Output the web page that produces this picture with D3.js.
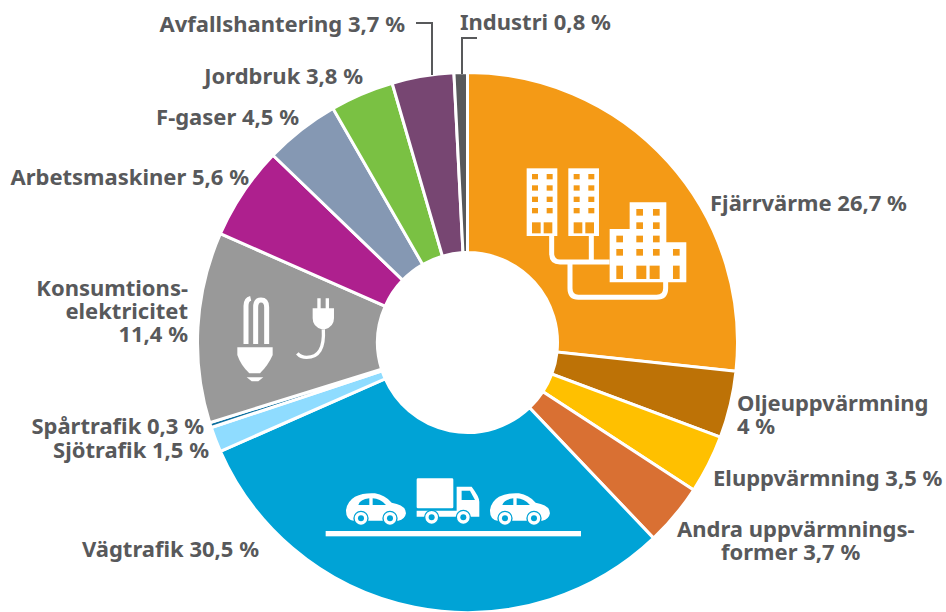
<!DOCTYPE html>
<html>
<head>
<meta charset="utf-8">
<script src="https://cdn.jsdelivr.net/npm/d3@7"></script>
<style>
html, body { margin: 0; padding: 0; background: #fff; overflow: hidden; }
text { font-family: "Noto Sans", sans-serif; font-weight: 700; font-size: 22px; fill: #58595b; }
</style>
</head>
<body>
<script>
// Data, clockwise from the top
var categories = ["Fjärrvärme", "Oljeuppvärmning", "Eluppvärmning", "Andra uppvärmningsformer", "Vägtrafik", "Sjötrafik", "Spårtrafik", "Konsumtionselektricitet", "Arbetsmaskiner", "F-gaser", "Jordbruk", "Avfallshantering", "Industri"];
var values = [26.7, 4, 3.5, 3.7, 30.5, 1.5, 0.3, 11.4, 5.6, 4.5, 3.8, 3.7, 0.8];
var colors = ["#f49a16", "#bd7206", "#ffc000", "#d97033", "#00a3d6", "#8fdcff", "#0d6f9f", "#999999", "#ae208e", "#8598b3", "#7ac143", "#774672", "#58595b"];

// Label texts and where they sit
var labelLines = [
    ["Fjärrvärme 26,7 %"], ["Oljeuppvärmning", "4 %"], ["Eluppvärmning 3,5 %"],
    ["Andra uppvärmnings-"], ["Vägtrafik 30,5 %"], ["Sjötrafik 1,5 %"], ["Spårtrafik 0,3 %"],
    ["Konsumtions-", "elektricitet", "11,4 %"], ["Arbetsmaskiner 5,6 %"], ["F-gaser 4,5 %"],
    ["Jordbruk 3,8 %"], ["Avfallshantering 3,7 %"], ["Industri 0,8 %"]
];
var labelX = [710, 737, 713, 677, 259, 209, 204, 188, 249, 299, 363, 405, 460];
var labelY = [211, 411, 486, 537, 557, 458, 434, 296, 185, 125, 84, 32, 30];
var labelAnchor = ["start", "start", "start", "start", "end", "end", "end", "end", "end", "end", "end", "end", "start"];

var width = 946, height = 612;
var cx = 467.5, cy = 342.5, outerR = 270, innerR = 90;

var svg = d3.select("body").append("svg")
    .attr("width", width)
    .attr("height", height);

// Slices
var pie = d3.pie().sort(null).value(function(d) { return d; });
var arc = d3.arc().innerRadius(innerR).outerRadius(outerR);

svg.append("g")
    .attr("transform", "translate(" + cx + "," + cy + ")")
    .selectAll("path")
    .data(pie(values))
    .enter().append("path")
    .attr("d", arc)
    .attr("fill", function(d, i) { return colors[i]; })
    .attr("stroke", "#fff")
    .attr("stroke-width", 3);

// Labels
var labels = svg.append("g").selectAll("text")
    .data(labelLines)
    .enter().append("text")
    .attr("text-anchor", function(d, i) { return labelAnchor[i]; })
    .attr("y", function(d, i) { return labelY[i]; });

labels.selectAll("tspan")
    .data(function(d, i) { return d.map(function(t) { return {t: t, x: labelX[i]}; }); })
    .enter().append("tspan")
    .attr("x", function(d) { return d.x; })
    .attr("dy", function(d, i) { return i ? 23 : 0; })
    .text(function(d) { return d.t; });

// second line of "Andra uppvärmnings-" starts further in
svg.append("text").attr("x", 721).attr("y", 560).text("former 3,7 %");

// Leader lines
svg.append("path").attr("d", "M416,23H432V75")
    .attr("fill", "none").attr("stroke", "#58595b").attr("stroke-width", 2);
svg.append("path").attr("d", "M477,38H462V74")
    .attr("fill", "none").attr("stroke", "#58595b").attr("stroke-width", 2);

// Buildings icon
var orange = colors[0];
var house = svg.append("g").attr("transform", "translate(500,140) scale(0.3333)");
house.append("path")
    .attr("d", "M155,285V340Q155,366 180,366H329M274,285V366M210,366V445Q210,472 235,472H470Q497,472 497,445V420")
    .attr("fill", "none").attr("stroke", "#fff").attr("stroke-width", 15);
[80, 205].forEach(function(x0) {
    house.append("rect").attr("x", x0).attr("y", 85).attr("width", 92).attr("height", 203).attr("fill", "#fff");
    [102, 136, 170, 204].forEach(function(y0) {
        [16, 60].forEach(function(dx) {
            house.append("rect").attr("x", x0 + dx).attr("y", y0).attr("width", 18).attr("height", 16).attr("fill", orange);
        });
    });
    [16, 51].forEach(function(dx) {
        house.append("rect").attr("x", x0 + dx).attr("y", 247).attr("width", 26).attr("height", 33).attr("fill", orange);
    });
});
house.append("path").attr("d", "M389,187H499V307H559V427H329V267H389Z").attr("fill", "#fff");
[[409, 207], [459, 207], [409, 247], [459, 247], [349, 287], [409, 287], [459, 287], [349, 327], [409, 327], [459, 327], [519, 327]].forEach(function(p) {
    house.append("rect").attr("x", p[0]).attr("y", p[1]).attr("width", 20).attr("height", 20).attr("fill", orange);
});
[[349, 20], [409, 30], [449, 30], [519, 20]].forEach(function(p) {
    house.append("rect").attr("x", p[0]).attr("y", 377).attr("width", p[1]).attr("height", 40).attr("fill", orange);
});

// Bulb and plug icon
var power = svg.append("g").attr("transform", "translate(210,270) scale(0.3333)");
power.append("path")
    .attr("d", "M108,222V108Q108,88 122,85M137,222V112Q137,90 153,90Q170,90 170,112V222")
    .attr("fill", "none").attr("stroke", "#fff").attr("stroke-width", 15);
power.append("path").attr("d", "M82,232H188V255Q175,285 150,310H118Q92,285 82,255Z").attr("fill", "#fff");
power.append("path").attr("d", "M110,322H160L145,334H125Z").attr("fill", "#fff");
power.append("path").attr("d", "M322,85H332V115H347V85H357V115H372V145Q372,170 345,178H335Q308,170 308,145V115H322Z").attr("fill", "#fff");
power.append("path").attr("d", "M340,178Q345,262 290,262Q272,262 262,250")
    .attr("fill", "none").attr("stroke", "#fff").attr("stroke-width", 10);

// Car and truck icon
var blue = colors[4];
var road = svg.append("g").attr("transform", "translate(310,460) scale(0.3333)");
road.append("rect").attr("x", 47).attr("y", 213).attr("width", 766).attr("height", 16).attr("fill", "#fff");
function wheel(g, x, y) {
    g.append("circle").attr("cx", x).attr("cy", y).attr("r", 21).attr("fill", "#fff").attr("stroke", blue).attr("stroke-width", 4);
    g.append("circle").attr("cx", x).attr("cy", y).attr("r", 9).attr("fill", blue);
}
[0, 432].forEach(function(dx) {
    var car = road.append("g").attr("transform", "translate(" + dx + ",0)");
    car.append("path").attr("d", "M108,152Q110,125 135,110Q160,98 195,100Q225,105 245,128Q288,135 288,160Q285,178 265,182H130Q108,178 108,152Z").attr("fill", "#fff");
    car.append("path").attr("d", "M145,135Q150,118 178,115V135ZM188,115Q210,115 228,135H188Z").attr("fill", blue);
    wheel(car, 153, 175);
    wheel(car, 240, 175);
});
road.append("rect").attr("x", 320).attr("y", 55).attr("width", 110).attr("height", 90).attr("rx", 4).attr("fill", "#fff");
road.append("path").attr("d", "M440,80H485Q508,110 508,125V170H320V152H440Z").attr("fill", "#fff");
road.append("path").attr("d", "M455,92H480L495,120H455Z").attr("fill", blue);
wheel(road, 365, 172);
wheel(road, 460, 172);
</script>
</body>
</html>
